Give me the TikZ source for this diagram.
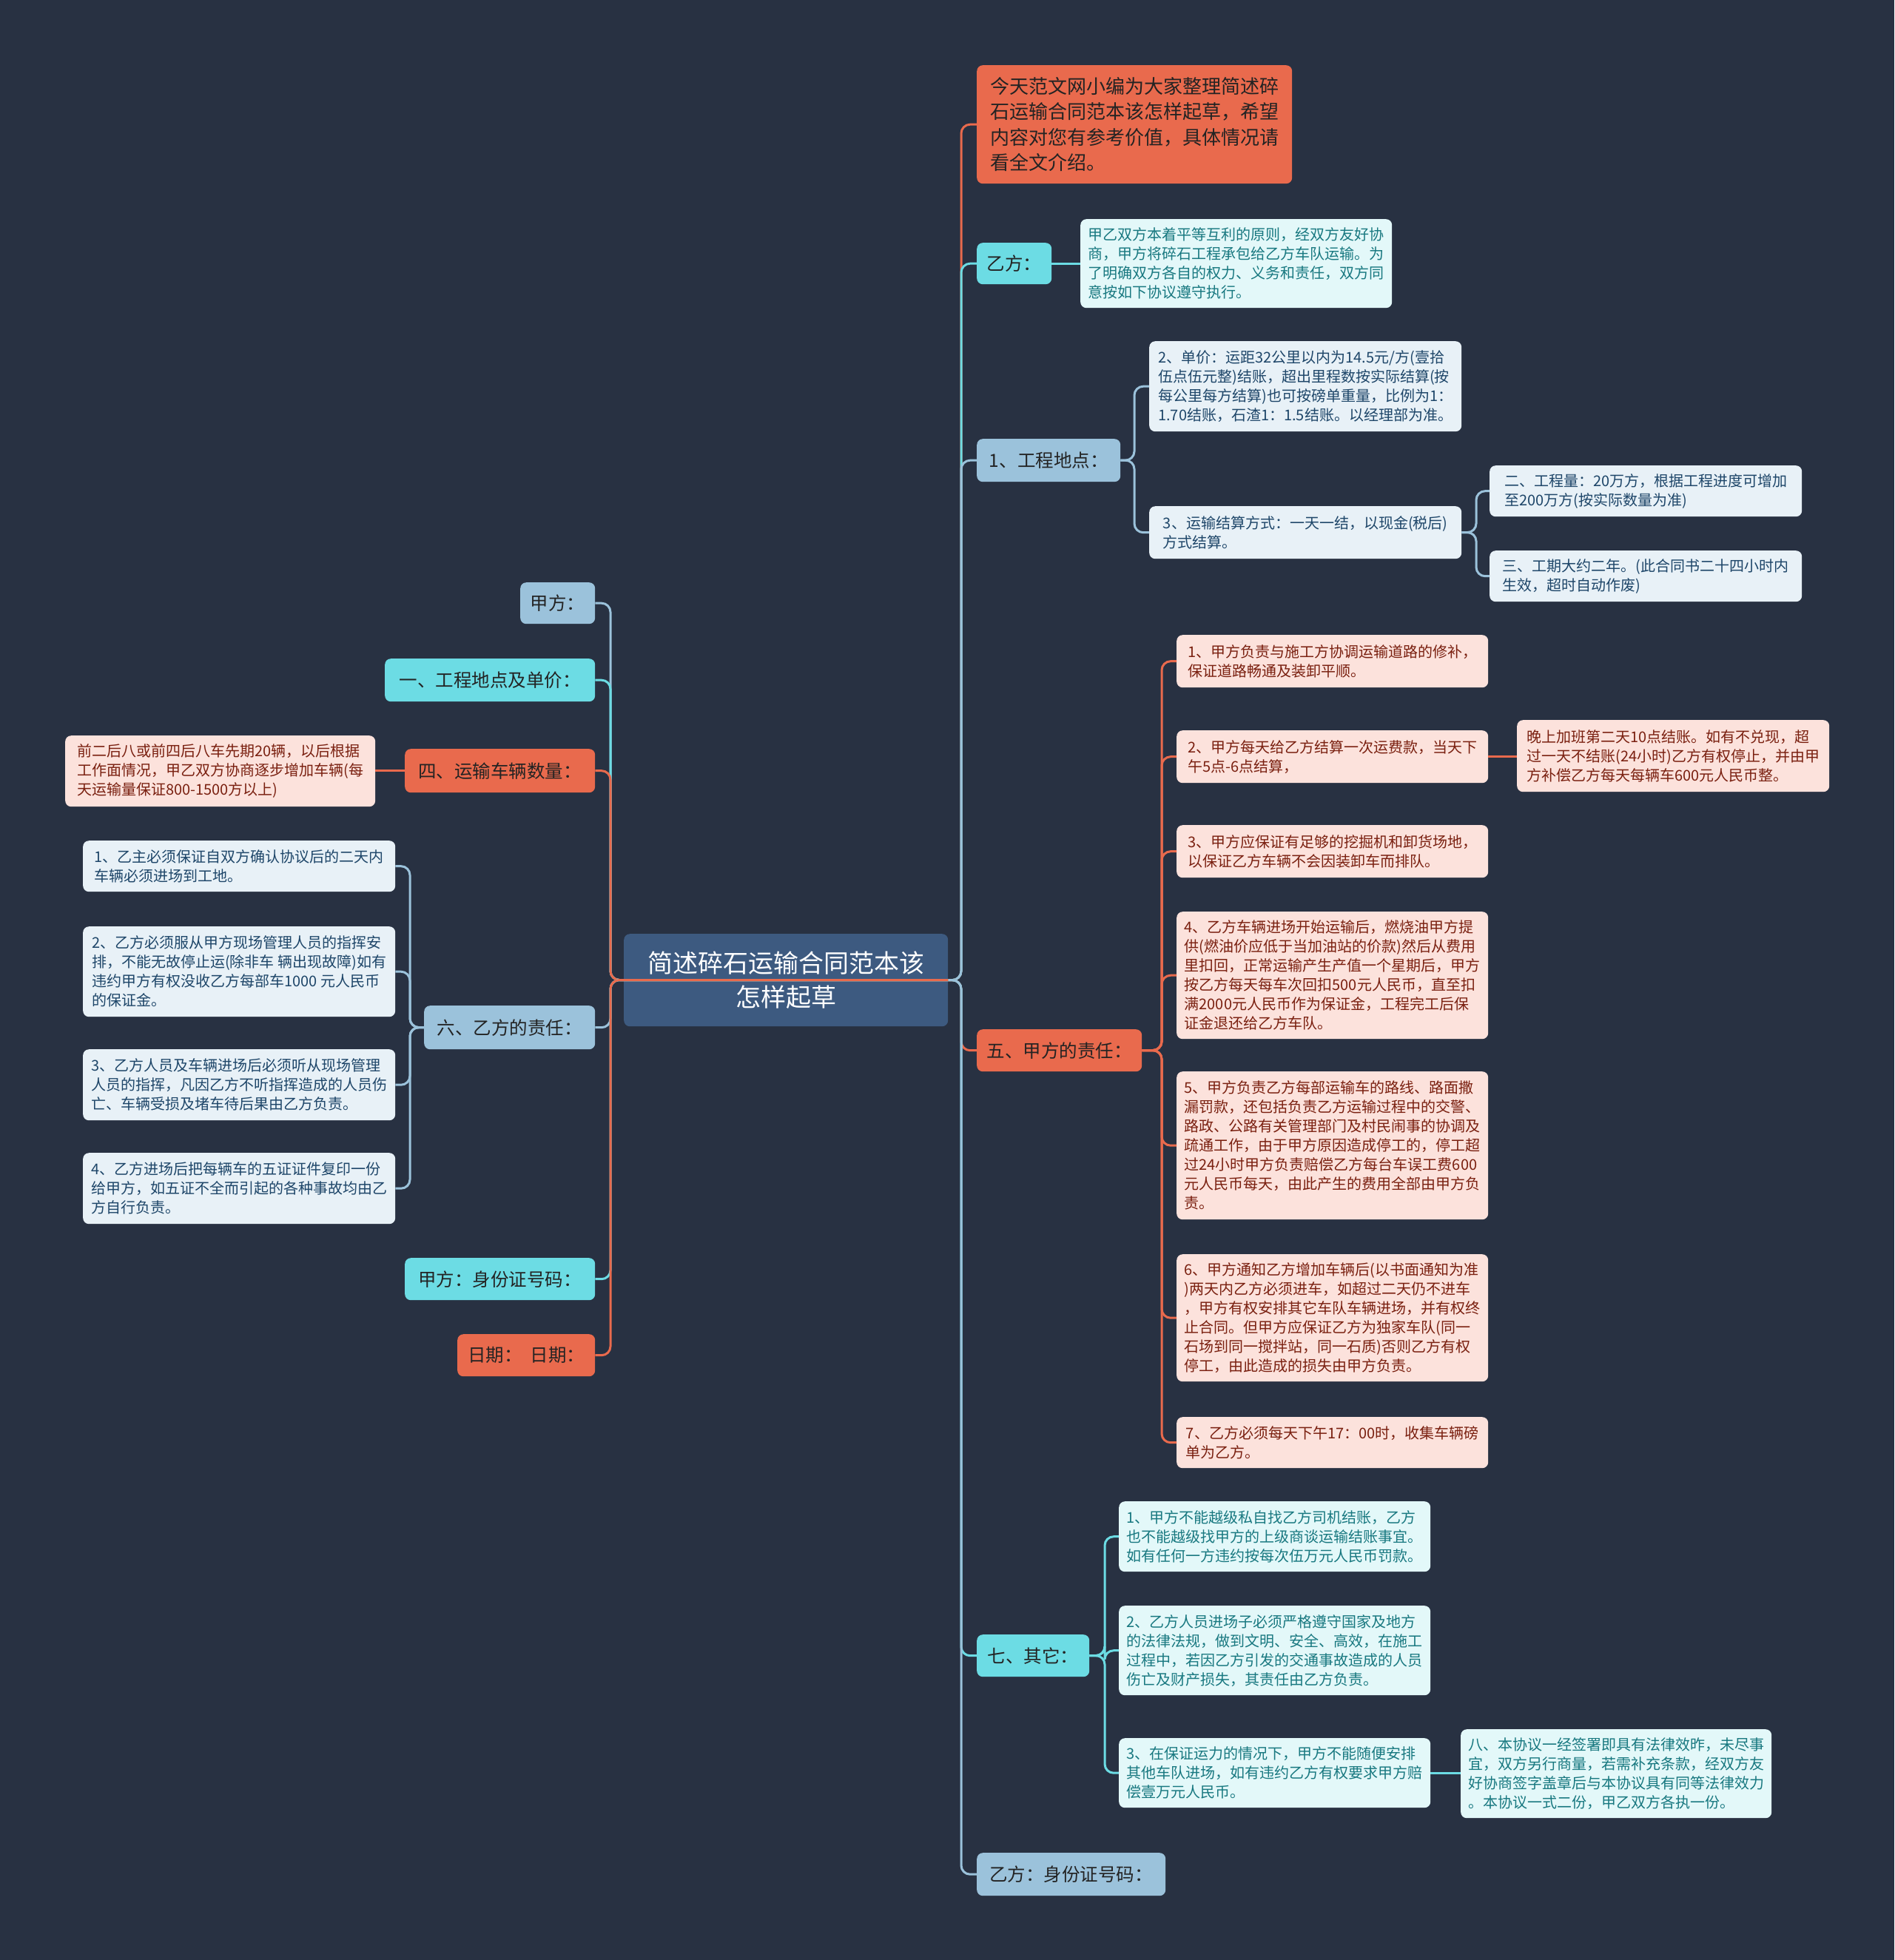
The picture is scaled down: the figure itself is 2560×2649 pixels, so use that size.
\documentclass[tikz,border=0pt]{standalone}
\usepackage{fontspec}
\setmainfont{Noto Sans CJK SC}
\definecolor{bgc}{HTML}{283142}
\definecolor{rootc}{HTML}{3D5A80}
\definecolor{orangec}{HTML}{E96A4D}
\definecolor{cyanc}{HTML}{6CDCE4}
\definecolor{bluec}{HTML}{9BC2DB}
\definecolor{pinkc}{HTML}{FCE2DC}
\definecolor{pinktxt}{HTML}{7A2010}
\definecolor{lcyanc}{HTML}{E3F8F9}
\definecolor{lcyantxt}{HTML}{187880}
\definecolor{lbluec}{HTML}{E8F1F7}
\definecolor{lbluetxt}{HTML}{1E4669}
\definecolor{dk}{HTML}{232323}
\tikzset{
  box/.style={rounded corners=8pt, inner sep=0pt, anchor=north west, align=left},
  rootbox/.style={box, fill=rootc, text=white, align=center, font=\fontsize{34}{46}\selectfont},
  introbox/.style={box, fill=orangec, text=dk, font=\fontsize{26}{34.3}\selectfont},
  lvorange/.style={box, fill=orangec, text=dk, font=\fontsize{24.5}{30}\selectfont},
  lvcyan/.style={box, fill=cyanc, text=dk, font=\fontsize{24.5}{30}\selectfont},
  lvblue/.style={box, fill=bluec, text=dk, font=\fontsize{24.5}{30}\selectfont},
  cpink/.style={box, fill=pinkc, text=pinktxt, font=\fontsize{20}{26}\selectfont},
  ccyan/.style={box, fill=lcyanc, text=lcyantxt, font=\fontsize{20}{26}\selectfont},
  cblue/.style={box, fill=lbluec, text=lbluetxt, font=\fontsize{20}{26}\selectfont},
  eo/.style={draw=orangec, line width=3pt, rounded corners=12pt},
  ec/.style={draw=cyanc, line width=3pt, rounded corners=12pt},
  eb/.style={draw=bluec, line width=3pt, rounded corners=12pt},
}
\begin{document}
\begin{tikzpicture}[x=1pt,y=-1pt]
\fill[bgc] (0,0) rectangle (2560,2649);
\useasboundingbox (0,0) rectangle (2560,2649);

% root
\node[rootbox, minimum width=438pt, minimum height=125pt] (root) at (843,1262) {简述碎石运输合同范本该\\怎样起草};

% right side level 1
\node[introbox, minimum width=426pt, minimum height=160pt] (intro) at (1320,88) {今天范文网小编为大家整理简述碎\\石运输合同范本该怎样起草，希望\\内容对您有参考价值，具体情况请\\看全文介绍。};
\node[lvcyan, minimum width=101pt, minimum height=56pt] (yf) at (1320,328) {乙方：};
\node[lvblue, minimum width=194pt, minimum height=58pt] (gc) at (1320,593) {1、工程地点：};
\node[lvorange, minimum width=223pt, minimum height=57pt] (wu) at (1320,1391) {五、甲方的责任：};
\node[lvcyan, minimum width=152pt, minimum height=57pt] (qi) at (1320,2209) {七、其它：};
\node[lvblue, minimum width=255pt, minimum height=58pt] (yfid) at (1320,2504) {乙方：身份证号码：};

% right side level 2
\node[ccyan, minimum width=421pt, minimum height=120pt] (yfc) at (1460,296) {甲乙双方本着平等互利的原则，经双方友好协\\商，甲方将碎石工程承包给乙方车队运输。为\\了明确双方各自的权力、义务和责任，双方同\\意按如下协议遵守执行。};
\node[cblue, minimum width=422pt, minimum height=122pt] (gc1) at (1553,461) {2、单价：运距32公里以内为14.5元/方(壹拾\\伍点伍元整)结账，超出里程数按实际结算(按\\每公里每方结算)也可按磅单重量，比例为1：\\1.70结账，石渣1：1.5结账。以经理部为准。};
\node[cblue, minimum width=422pt, minimum height=71pt] (gc2) at (1553,684) {3、运输结算方式：一天一结，以现金(税后)\\方式结算。};
\node[cblue, minimum width=422pt, minimum height=69pt] (gc2a) at (2013,629) {二、工程量：20万方，根据工程进度可增加\\至200万方(按实际数量为准)};
\node[cblue, minimum width=422pt, minimum height=69pt] (gc2b) at (2013,744) {三、工期大约二年。(此合同书二十四小时内\\生效，超时自动作废)};

\node[cpink, minimum width=421pt, minimum height=71pt] (wu1) at (1590,858) {1、甲方负责与施工方协调运输道路的修补，\\保证道路畅通及装卸平顺。};
\node[cpink, minimum width=421pt, minimum height=71pt] (wu2) at (1590,987) {2、甲方每天给乙方结算一次运费款，当天下\\午5点-6点结算，};
\node[cpink, minimum width=422pt, minimum height=97pt] (wu2a) at (2050,973) {晚上加班第二天10点结账。如有不兑现，超\\过一天不结账(24小时)乙方有权停止，并由甲\\方补偿乙方每天每辆车600元人民币整。};
\node[cpink, minimum width=421pt, minimum height=71pt] (wu3) at (1590,1115) {3、甲方应保证有足够的挖掘机和卸货场地，\\以保证乙方车辆不会因装卸车而排队。};
\node[cpink, minimum width=421pt, minimum height=172pt] (wu4) at (1590,1232) {4、乙方车辆进场开始运输后，燃烧油甲方提\\供(燃油价应低于当加油站的价款)然后从费用\\里扣回，正常运输产生产值一个星期后，甲方\\按乙方每天每车次回扣500元人民币，直至扣\\满2000元人民币作为保证金，工程完工后保\\证金退还给乙方车队。};
\node[cpink, minimum width=421pt, minimum height=200pt] (wu5) at (1590,1448) {5、甲方负责乙方每部运输车的路线、路面撒\\漏罚款，还包括负责乙方运输过程中的交警、\\路政、公路有关管理部门及村民闹事的协调及\\疏通工作，由于甲方原因造成停工的，停工超\\过24小时甲方负责赔偿乙方每台车误工费600\\元人民币每天，由此产生的费用全部由甲方负\\责。};
\node[cpink, minimum width=421pt, minimum height=172pt] (wu6) at (1590,1695) {6、甲方通知乙方增加车辆后(以书面通知为准\\)两天内乙方必须进车，如超过二天仍不进车\\，甲方有权安排其它车队车辆进场，并有权终\\止合同。但甲方应保证乙方为独家车队(同一\\石场到同一搅拌站，同一石质)否则乙方有权\\停工，由此造成的损失由甲方负责。};
\node[cpink, minimum width=421pt, minimum height=69pt] (wu7) at (1590,1915) {7、乙方必须每天下午17：00时，收集车辆磅\\单为乙方。};

\node[ccyan, minimum width=421pt, minimum height=95pt] (qi1) at (1512,2029) {1、甲方不能越级私自找乙方司机结账，乙方\\也不能越级找甲方的上级商谈运输结账事宜。\\如有任何一方违约按每次伍万元人民币罚款。};
\node[ccyan, minimum width=421pt, minimum height=121pt] (qi2) at (1512,2170) {2、乙方人员进场子必须严格遵守国家及地方\\的法律法规，做到文明、安全、高效，在施工\\过程中，若因乙方引发的交通事故造成的人员\\伤亡及财产损失，其责任由乙方负责。};
\node[ccyan, minimum width=421pt, minimum height=94pt] (qi3) at (1512,2349) {3、在保证运力的情况下，甲方不能随便安排\\其他车队进场，如有违约乙方有权要求甲方赔\\偿壹万元人民币。};
\node[ccyan, minimum width=420pt, minimum height=120pt] (qi3a) at (1974,2337) {八、本协议一经签署即具有法律效昨，未尽事\\宜，双方另行商量，若需补充条款，经双方友\\好协商签字盖章后与本协议具有同等法律效力\\。本协议一式二份，甲乙双方各执一份。};

% left side level 1
\node[lvblue, minimum width=101pt, minimum height=56pt] (jf) at (703,787) {甲方：};
\node[lvcyan, minimum width=284pt, minimum height=58pt] (yi) at (520,890) {一、工程地点及单价：};
\node[lvorange, minimum width=257pt, minimum height=59pt] (si) at (547,1012) {四、运输车辆数量：};
\node[lvblue, minimum width=231pt, minimum height=59pt] (liu) at (573,1359) {六、乙方的责任：};
\node[lvcyan, minimum width=257pt, minimum height=57pt] (jfid) at (547,1700) {甲方：身份证号码：};
\node[lvorange, minimum width=186pt, minimum height=57pt] (rq) at (618,1803) {日期：\ \ 日期：};

% left side level 2
\node[cpink, minimum width=419pt, minimum height=96pt] (si1) at (88,994) {前二后八或前四后八车先期20辆，以后根据\\工作面情况，甲乙双方协商逐步增加车辆(每\\天运输量保证800-1500方以上)};
\node[cblue, minimum width=422pt, minimum height=69pt] (liu1) at (112,1136) {1、乙主必须保证自双方确认协议后的二天内\\车辆必须进场到工地。};
\node[cblue, minimum width=422pt, minimum height=122pt] (liu2) at (112,1252) {2、乙方必须服从甲方现场管理人员的指挥安\\排，不能无故停止运(除非车 辆出现故障)如有\\违约甲方有权没收乙方每部车1000 元人民币\\的保证金。};
\node[cblue, minimum width=422pt, minimum height=96pt] (liu3) at (112,1418) {3、乙方人员及车辆进场后必须听从现场管理\\人员的指挥，凡因乙方不听指挥造成的人员伤\\亡、车辆受损及堵车待后果由乙方负责。};
\node[cblue, minimum width=422pt, minimum height=96pt] (liu4) at (112,1558) {4、乙方进场后把每辆车的五证证件复印一份\\给甲方，如五证不全而引起的各种事故均由乙\\方自行负责。};

% coordinates for trunks
\coordinate (rt) at (1299,1324.5);
\coordinate (lt) at (825,1324.5);

% right level-1 connectors
\draw[eo] (root.east) -- (rt) |- (intro.west);
\draw[ec] (root.east) -- (rt) |- (yf.west);
\draw[eb] (root.east) -- (rt) |- (gc.west);
\draw[eo] (root.east) -- (rt) |- (wu.west);
\draw[ec] (root.east) -- (rt) |- (qi.west);
\draw[eb] (root.east) -- (rt) |- (yfid.west);

% left level-1 connectors
\draw[eb] (root.east) -- (lt) |- (jf.east);
\draw[ec] (root.east) -- (lt) |- (yi.east);
\draw[eo] (root.east) -- (lt) |- (si.east);
\draw[eb] (root.east) -- (lt) |- (liu.east);
\draw[ec] (root.east) -- (lt) |- (jfid.east);
\draw[eo] (root.east) -- (lt) |- (rq.east);

% level-2 connectors
\draw[ec] (yf.east) -- (yf.east -| yfc.west);
\coordinate (gct) at (1533,622);
\draw[eb] (gc.east) -- (gct) |- (gc1.west);
\draw[eb] (gc.east) -- (gct) |- (gc2.west);
\coordinate (gc2t) at (1995,719.5);
\draw[eb] (gc2.east) -- (gc2t) |- (gc2a.west);
\draw[eb] (gc2.east) -- (gc2t) |- (gc2b.west);
\coordinate (wut) at (1570,1419.5);
\draw[eo] (wu.east) -- (wut) |- (wu1.west);
\draw[eo] (wu.east) -- (wut) |- (wu2.west);
\draw[eo] (wu.east) -- (wut) |- (wu3.west);
\draw[eo] (wu.east) -- (wut) |- (wu4.west);
\draw[eo] (wu.east) -- (wut) |- (wu5.west);
\draw[eo] (wu.east) -- (wut) |- (wu6.west);
\draw[eo] (wu.east) -- (wut) |- (wu7.west);
\draw[eo] (wu2.east) -- (wu2.east -| wu2a.west);
\coordinate (qit) at (1493,2237.5);
\draw[ec] (qi.east) -- (qit) |- (qi1.west);
\draw[ec] (qi.east) -- (qit) |- (qi2.west);
\draw[ec] (qi.east) -- (qit) |- (qi3.west);
\draw[ec] (qi3.east) -- (qi3.east -| qi3a.west);
\draw[eo] (si.west) -- (si.west -| si1.east);
\coordinate (liut) at (554,1388.5);
\draw[eb] (liu.west) -- (liut) |- (liu1.east);
\draw[eb] (liu.west) -- (liut) |- (liu2.east);
\draw[eb] (liu.west) -- (liut) |- (liu3.east);
\draw[eb] (liu.west) -- (liut) |- (liu4.east);
\end{tikzpicture}
\end{document}
